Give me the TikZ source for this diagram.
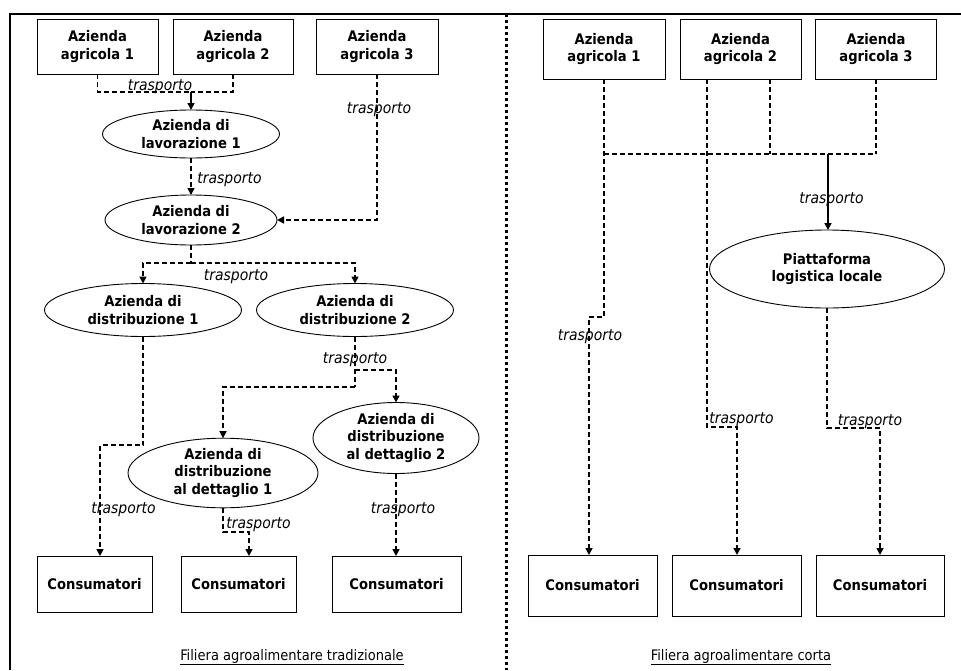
\documentclass[tikz,border=0pt]{standalone}
\usepackage{fontspec}
\setmainfont{DejaVu Sans Condensed}
\usetikzlibrary{arrows.meta,shapes.geometric}

\begin{document}
\begin{tikzpicture}[x=1pt,y=-1pt,
  every node/.style={inner sep=0pt, outer sep=0pt},
  box/.style={draw, line width=0.9pt, rectangle, align=center,
    font=\fontsize{14.6}{17.5}\selectfont\bfseries},
  oval/.style={draw, line width=0.9pt, ellipse, align=center,
    font=\fontsize{14.6}{17.5}\selectfont\bfseries},
  conn/.style={line width=1.6pt, dash pattern=on 5pt off 3pt},
  solidconn/.style={line width=1.6pt},
  arr/.style={-{Triangle[length=7pt,width=7pt]}},
  tr/.style={font=\fontsize{15.5}{18}\selectfont\itshape},
  ttl/.style={font=\fontsize{14.5}{17}\selectfont}
]
\useasboundingbox (0,0) rectangle (961,670);

% frame and divider
\draw[line width=2.5pt] (10,670) -- (10,14) -- (961,14);
\draw[line width=3pt, dash pattern=on 3pt off 3pt] (506,14) -- (506,670);

% ---------- traditional chain ----------
\node[box, minimum width=121, minimum height=55] (la1) at (97.5,46.5) {Azienda\\agricola 1};
\node[box, minimum width=120, minimum height=55] (la2) at (233,46.5) {Azienda\\agricola 2};
\node[box, minimum width=122, minimum height=55] (la3) at (377,46.5) {Azienda\\agricola 3};

\node[oval, minimum width=177, minimum height=48] (lav1) at (191,134) {Azienda di\\lavorazione 1};
\node[oval, minimum width=172, minimum height=50] (lav2) at (191,220) {Azienda di\\lavorazione 2};
\node[oval, minimum width=197, minimum height=53] (dis1) at (143,310) {Azienda di\\distribuzione 1};
\node[oval, minimum width=197, minimum height=53] (dis2) at (355,310) {Azienda di\\distribuzione 2};
\node[oval, minimum width=190, minimum height=62] (det1) at (223,473) {Azienda di\\distribuzione\\al dettaglio 1};
\node[oval, minimum width=166, minimum height=71] (det2) at (396,438) {Azienda di\\distribuzione\\al dettaglio 2};

\node[box, minimum width=115, minimum height=56] (lc1) at (94.5,584) {Consumatori};
\node[box, minimum width=115, minimum height=56] (lc2) at (238.5,584) {Consumatori};
\node[box, minimum width=129, minimum height=56] (lc3) at (396.5,584) {Consumatori};

\coordinate (j1) at (191,92);
\coordinate (j2) at (191,263);
\coordinate (j3) at (100,445);
\coordinate (j4) at (355,370);
\coordinate (j5) at (355,387);
\coordinate (j6) at (249,532);

\draw[conn] (la1.south) |- (j1);
\draw[conn] (la2.south) |- (j1);
\draw[solidconn, arr] (j1) -- (lav1.north);
\draw[conn, arr] (la3.south) |- (lav2.east);
\draw[conn, arr] (lav1.south) -- (lav2.north);
\draw[conn] (lav2.south) -- (j2);
\draw[conn, arr] (j2) -| (dis1.north);
\draw[conn, arr] (j2) -| (dis2.north);
\draw[conn, arr] (dis1.south) |- (j3) -- (j3 |- lc1.north);
\draw[conn] (dis2.south) -- (j5);
\draw[conn, arr] (j4) -| (det2.north);
\draw[conn, arr] (j5) -| (det1.north);
\draw[conn, arr] (det1.south) |- (j6) -- (j6 |- lc2.north);
\draw[conn, arr] (det2.south) -- (det2.south |- lc3.north);

\node[tr] (t1) at (160,87) {trasporto};
\node[tr] (t2) at (379,110) {trasporto};
\node[tr] (t3) at (229.5,180) {trasporto};
\node[tr] (t4) at (236,277) {trasporto};
\node[tr] (t5) at (355,360) {trasporto};
\node[tr] (t6) at (123.5,510) {trasporto};
\node[tr] (t7) at (258.5,525) {trasporto};
\node[tr] (t8) at (403,510) {trasporto};

\node[ttl] (title1) at (292,657) {\underline{Filiera agroalimentare tradizionale}};

% ---------- short chain ----------
\node[box, minimum width=122, minimum height=60] (ra1) at (604,49) {Azienda\\agricola 1};
\node[box, minimum width=121, minimum height=60] (ra2) at (740.5,49) {Azienda\\agricola 2};
\node[box, minimum width=121, minimum height=60] (ra3) at (876,49) {Azienda\\agricola 3};

\node[oval, minimum width=235, minimum height=78] (plat) at (827,269) {Piattaforma\\logistica locale};

\node[box, minimum width=129, minimum height=61] (rc1) at (592.5,585.5) {Consumatori};
\node[box, minimum width=129, minimum height=61] (rc2) at (736.5,585.5) {Consumatori};
\node[box, minimum width=128, minimum height=61] (rc3) at (880,585.5) {Consumatori};

\coordinate (h1) at (604,154);
\coordinate (h2) at (876,154);
\coordinate (h3) at (770,154);
\coordinate (hm) at (828,154);
\coordinate (k1) at (589,317);
\coordinate (k0) at (707,427);
\coordinate (k2) at (737,427);
\coordinate (k3) at (880,428);

\draw[conn] (h1) -- (h2);
\draw[conn] (ra3.south) -- (h2);
\draw[conn] (ra2.south -| h3) -- (h3);
\draw[solidconn, arr] (hm) -- (hm |- plat.north);
\draw[conn, arr] (ra1.south) |- (k1) -- (k1 |- rc1.north);
\draw[conn, arr] (ra2.south -| k0) -- (k0) -- (k2) -- (k2 |- rc2.north);
\draw[conn, arr] (plat.south) |- (k3) -- (k3 |- rc3.north);

\node[tr] (t9) at (831.5,200) {trasporto};
\node[tr] (t10) at (590,337) {trasporto};
\node[tr] (t11) at (741.5,420) {trasporto};
\node[tr] (t12) at (870,422) {trasporto};

\node[ttl] (title2) at (741,657) {\underline{Filiera agroalimentare corta}};
\end{tikzpicture}
\end{document}
